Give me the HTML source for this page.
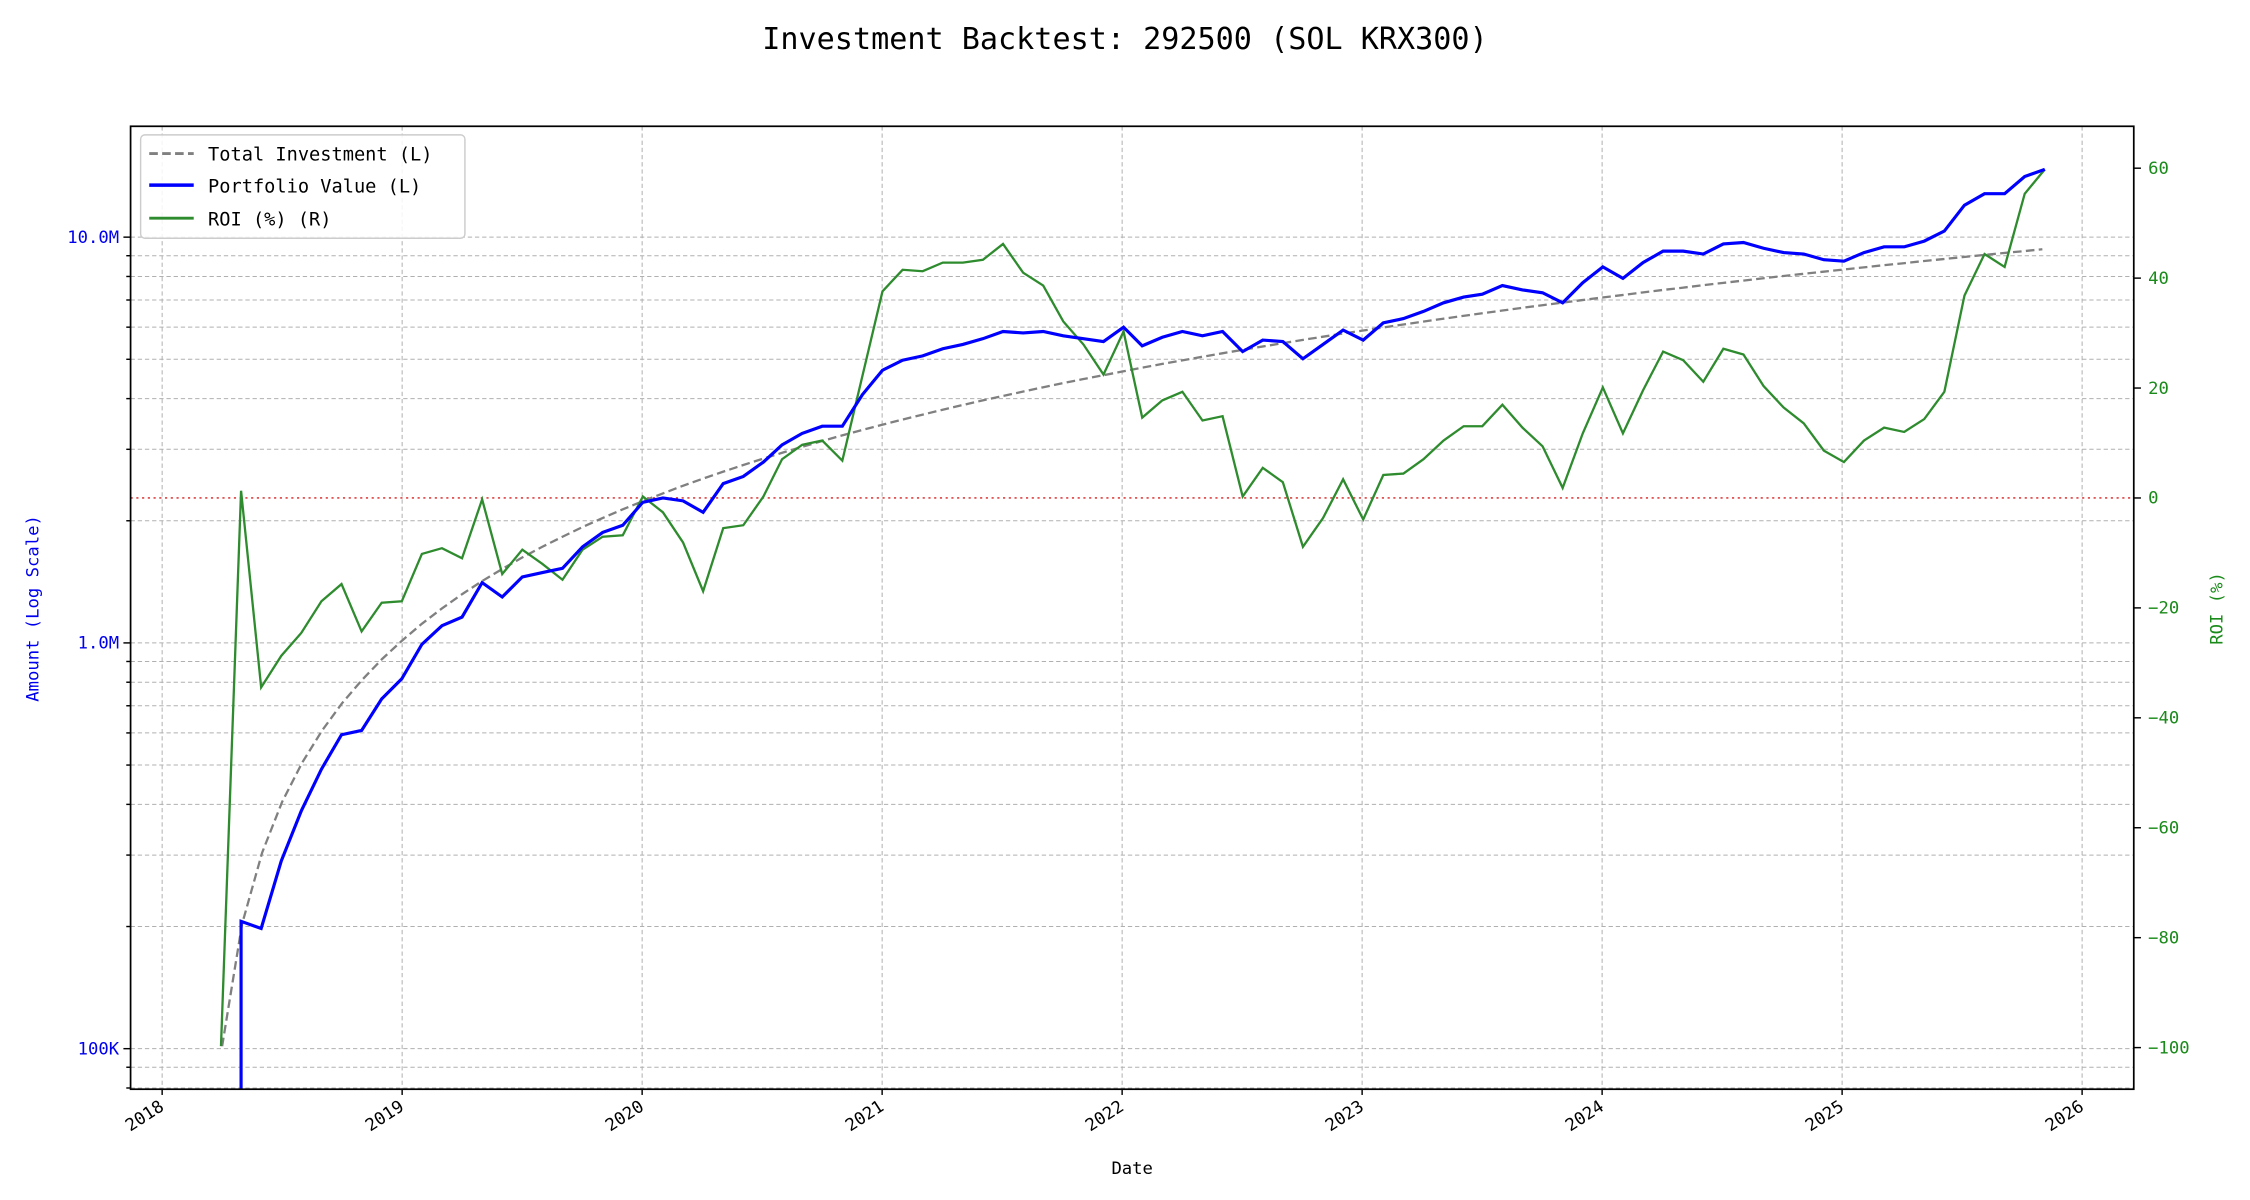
<!DOCTYPE html>
<html><head><meta charset="utf-8"><style>
html,body{margin:0;padding:0;background:#fff;}
svg{display:block;font-family:"DejaVu Sans Mono","Liberation Mono",monospace;}
</style></head><body>
<svg id="s" width="2250" height="1200" viewBox="0 0 1568 836.2" preserveAspectRatio="none" xmlns="http://www.w3.org/2000/svg">
<rect width="1568" height="836.2" fill="#fff"/>
<g id="grid"></g>
<g id="series"></g>
<rect x="91" y="88" width="1396" height="671" fill="none" stroke="#000" stroke-width="1.2"/>
<g id="ticks"></g>
<text x="784" y="34" font-size="21" text-anchor="middle">Investment Backtest: 292500 (SOL KRX300)</text>
<text x="789" y="818" font-size="12" text-anchor="middle">Date</text>
<text transform="translate(27,424) rotate(-90)" font-size="12" fill="#0000ee" text-anchor="middle">Amount (Log Scale)</text>
<text transform="translate(1549,424) rotate(-90)" font-size="12" fill="#1a8a1a" text-anchor="middle">ROI (%)</text>
<g>
<rect x="98" y="94" width="226" height="72" rx="3" fill="#fff" fill-opacity="0.85" stroke="#ccc"/>
<line x1="104" y1="107" x2="135" y2="107" stroke="#808080" stroke-width="2" stroke-dasharray="6,3"/>
<text x="145" y="112" font-size="13">Total Investment (L)</text>
<line x1="104" y1="129" x2="135" y2="129" stroke="#0000ff" stroke-width="2.5"/>
<text x="145" y="134" font-size="13">Portfolio Value (L)</text>
<line x1="104" y1="152" x2="135" y2="152" stroke="#2e8b2e" stroke-width="2"/>
<text x="145" y="157" font-size="13">ROI (%) (R)</text>
</g>
</svg>
<script>
const NS="http://www.w3.org/2000/svg";
function el(p,t,a,txt){const e=document.createElementNS(NS,t);for(const k in a)e.setAttribute(k,a[k]);if(txt!==undefined)e.textContent=txt;document.getElementById(p).appendChild(e);return e;}
const L=91,R=1487,T=88,B=759;
const dec=282.75, y1M=448;
function yv(v){return y1M-dec*Math.log10(v/1e6);}
for(let d=4;d<=7;d++){for(let m=1;m<10;m++){const v=m*Math.pow(10,d);const y=yv(v);if(y<T||y>B)continue;
el('grid','line',{x1:L,x2:R,y1:y,y2:y,stroke:'#b0b0b0','stroke-width':0.7,'stroke-dasharray':'3,2'});
el('ticks','line',{x1:L-(m==1?5:3),x2:L,y1:y,y2:y,stroke:'#000','stroke-width':1});}}
for(let i=0;i<=8;i++){const x=113+167.25*i;
el('grid','line',{x1:x,x2:x,y1:T,y2:B,stroke:'#b0b0b0','stroke-width':0.7,'stroke-dasharray':'3,2'});
el('ticks','line',{x1:x,x2:x,y1:B,y2:B+4,stroke:'#000','stroke-width':1});
el('ticks','text',{transform:`translate(${x+2},${B+14}) rotate(-33)`,'font-size':12,'text-anchor':'end'},String(2018+i));}
[[1e7,'10.0M'],[1e6,'1.0M'],[1e5,'100K']].forEach(([v,t])=>el('ticks','text',{x:L-8,y:yv(v)+4,'font-size':12,fill:'#0000ee','text-anchor':'end'},t));
for(let r=-100;r<=60;r+=20){const y=347-r*3.83;
el('ticks','line',{x1:R,x2:R+5,y1:y,y2:y,stroke:'#000','stroke-width':1});
el('ticks','text',{x:R+10,y:y+4,'font-size':12,fill:'#1a8a1a'},String(r).replace('-','\u2212'));}
el('series','line',{x1:L,x2:R,y1:347,y2:347,stroke:'#d62020','stroke-width':1,'stroke-dasharray':'1.5,2.5'});
let pts=[];for(let n=1;n<=92;n++){pts.push((154.8+13.94*(n-1)).toFixed(1)+','+(729-dec*Math.log10(n)).toFixed(1));}
el('series','polyline',{points:pts.join(' '),fill:'none',stroke:'#808080','stroke-width':1.6,'stroke-dasharray':'6,3'});
const g="154,729 168,342 182,479 196,457 210,441 224,419 238,407 252,440 266,420 280,419 294,386 308,382 322,389 336,348 350,400 364,383 378,393 392,404 406,383 420,374 434,373 448,346 462,357 476,378 490,412 504,368 518,366 532,346 545,320 559,310 573,307 587,321 601,262 615,203 629,188 643,189 657,183 671,183 685,181 699,170 713,190 727,199 741,224 755,240 769,261 783,231 796,291 810,279 824,273 838,293 852,290 866,346 880,326 894,336 908,381 922,361 936,334 950,362 964,331 978,330 992,320 1006,307 1020,297 1033,297 1047,282 1061,298 1075,311 1089,340 1103,302 1117,270 1131,302 1145,272 1159,245 1173,251 1187,266 1201,243 1215,247 1229,269 1243,284 1257,295 1271,314 1285,322 1299,307 1313,298 1327,301 1341,292 1355,273 1369,206 1383,177 1397,186 1411,135 1425,118";
el('series','polyline',{points:g,fill:'none',stroke:'#2e8b2e','stroke-width':1.6});
const b="168,759 168,642 182,647 196,600 210,565 224,536 238,512 252,509 266,487 280,473 294,449 308,436 322,430 336,406 350,416 364,402 378,399 392,396 406,381 420,371 434,366 448,350 462,347 476,349 490,357 504,337 518,332 532,322 545,310 559,302 573,297 587,297 601,275 615,258 629,251 643,248 657,243 671,240 685,236 699,231 713,232 727,231 741,234 755,236 769,238 783,228 796,241 810,235 824,231 838,234 852,231 866,245 880,237 894,238 908,250 922,240 936,230 950,237 964,225 978,222 992,217 1006,211 1020,207 1033,205 1047,199 1061,202 1075,204 1089,211 1103,197 1117,186 1131,194 1145,183 1159,175 1173,175 1187,177 1201,170 1215,169 1229,173 1243,176 1257,177 1271,181 1285,182 1299,176 1313,172 1327,172 1341,168 1355,161 1369,143 1383,135 1397,135 1411,123 1425,118";
el('series','polyline',{points:b,fill:'none',stroke:'#0000ff','stroke-width':2.2});
</script>
</body></html>
